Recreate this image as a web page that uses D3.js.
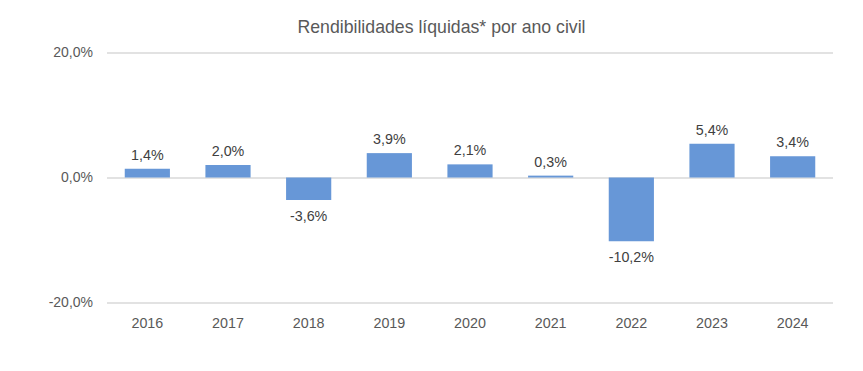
<!DOCTYPE html>
<html><head><meta charset="utf-8">
<script src="https://cdn.jsdelivr.net/npm/d3@7"></script>
<style>body{margin:0;background:#fff;}svg{display:block;font-family:"Liberation Sans",Arial,sans-serif;}</style>
</head><body><svg id="c" width="863" height="371"></svg>
<script>
const years = ["2016","2017","2018","2019","2020","2021","2022","2023","2024"];
const returns = [1.4, 2.0, -3.6, 3.9, 2.1, 0.3, -10.2, 5.4, 3.4];
const yTicks = [-20, 0, 20];
const title = "Rendibilidades líquidas* por ano civil";

const svg = d3.select("#c");
const m = {l:107, r:30, t:52.5, b:68.5};
const W = 863, H = 371;
const x = d3.scaleBand().domain(years).range([m.l, W - m.r]).paddingInner(0.44).paddingOuter(0.22);
const y = d3.scaleLinear().domain([-20, 20]).range([H - m.b, m.t]);
const fmt = v => d3.format(".1f")(v).replace(".", ",").replace("−","-") + "%";

svg.append("text").attr("x", 441.5).attr("y", 33).attr("text-anchor","middle")
  .attr("font-size", 17.7).attr("fill", "#595959").text(title);

const yAxis = d3.axisLeft(y).tickValues(yTicks).tickSize(-(W - m.r - m.l)).tickFormat(fmt);
const ga = svg.append("g").attr("transform", `translate(${m.l},0)`).call(yAxis);
ga.select(".domain").remove();
ga.selectAll(".tick line").attr("stroke", "#d9d9d9").attr("stroke-width", 1.3);
ga.selectAll(".tick text").attr("x", -14).attr("fill", "#595959").attr("font-size", 14).attr("font-family", "Liberation Sans, Arial, sans-serif");

svg.append("g").selectAll("rect").data(returns).join("rect")
  .attr("x", (d,i) => x(years[i])).attr("width", x.bandwidth())
  .attr("y", d => y(Math.max(0, d))).attr("height", d => Math.abs(y(d) - y(0)))
  .attr("fill", "#6797d7");

svg.append("g").selectAll("text").data(returns).join("text")
  .attr("x", (d,i) => x(years[i]) + x.bandwidth()/2)
  .attr("y", d => d >= 0 ? y(d) - 9 : y(d) + 21)
  .attr("text-anchor","middle").attr("font-size", 14.3).attr("fill", "#404040")
  .text(fmt);

const xAxis = d3.axisBottom(x).tickSize(0).tickPadding(15);
const gx = svg.append("g").attr("transform", `translate(0,${y(-20)})`).call(xAxis);
gx.select(".domain").remove();
gx.selectAll(".tick text").attr("fill", "#595959").attr("font-size", 14.3).attr("font-family", "Liberation Sans, Arial, sans-serif");
</script></body></html>
